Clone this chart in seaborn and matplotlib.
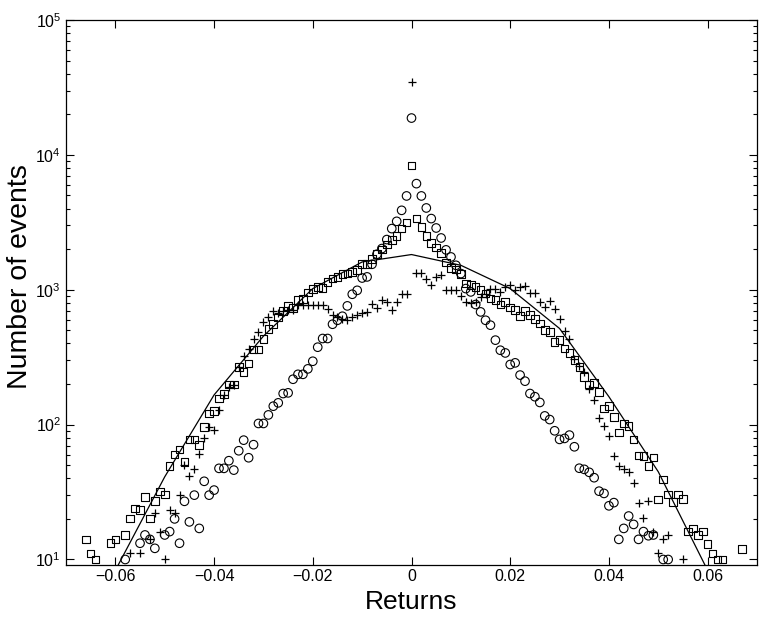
import numpy as np
import pandas as pd
import matplotlib
matplotlib.use("Agg")
import matplotlib.pyplot as plt
import seaborn as sns
from matplotlib.ticker import FixedLocator, FixedFormatter, LogLocator, NullLocator

sq_bin = [-66, -65, -64, -61, -60, -58, -57, -56, -55, -54, -53, -52, -51, -50, -49, -48, -47, -46,
          -45, -44, -43, -42, -41, -40, -39, -38, -37, -36, -35, -34, -33, -32, -31, -30, -29, -28,
          -27, -26, -25, -24, -23, -22, -21, -20, -19, -18, -17, -16, -15, -14, -13, -12, -11, -10,
          -9, -8, -7, -6, -5, -4, -3, -2, -1, 0, 1, 2, 3, 4, 5, 6, 7, 8, 9, 10, 11, 12, 13, 14, 15,
          16, 17, 18, 19, 20, 21, 22, 23, 24, 25, 26, 27, 28, 29, 30, 31, 32, 33, 34, 35, 36, 37, 38,
          39, 40, 41, 42, 43, 44, 45, 46, 47, 48, 49, 50, 51, 52, 53, 54, 55, 56, 57, 58, 59, 60, 61,
          62, 63, 67]
sq_cnt = [14.1, 11.1, 10, 13.2, 14.1, 15.2, 20.2, 23.9, 23.3, 29.2, 20.2, 27.1, 32, 30.4, 49.3, 60,
          65.5, 53, 77.6, 77.6, 70.5, 96, 121, 126, 156, 168, 199, 199, 268, 246, 284, 361, 361, 432,
          509, 555, 622, 697, 755, 733, 836, 851, 953, 1009, 1049, 1031, 1143, 1210, 1245, 1303, 1318,
          1355, 1394, 1545, 1545, 1683, 1833, 1985, 2165, 2330, 2505, 2840, 3145, 8360, 3370, 2930,
          2505, 2223, 2055, 1875, 1590, 1450, 1410, 1310, 1115, 1080, 1049, 991, 937, 861, 836, 777,
          812, 738, 705, 636, 693, 647, 604, 562, 501, 487, 410, 423, 366, 340, 301, 268, 226, 199,
          204, 174, 132, 137, 114, 87.5, 102, 98, 77.6, 59, 58.5, 49.3, 57, 27.9, 39.3, 30.4, 26.8,
          30.4, 28, 16.1, 17, 15.2, 16.1, 13, 11.1, 10, 10, 12]

ci_bin = [-58, -55, -54, -53, -52, -50, -49, -48, -47, -46, -45, -44, -43, -42, -41, -40, -39, -38,
          -37, -36, -35, -34, -33, -32, -31, -30, -29, -28, -27, -26, -25, -24, -23, -22, -21, -20,
          -19, -18, -17, -16, -15, -14, -13, -12, -11, -10, -9, -8, -7, -6, -5, -4, -3, -2, -1, 0,
          1, 2, 3, 4, 5, 6, 7, 8, 9, 10, 11, 12, 13, 14, 15, 16, 17, 18, 19, 20, 21, 22, 23, 24, 25,
          26, 27, 28, 29, 30, 31, 32, 33, 34, 35, 36, 37, 38, 39, 40, 41, 42, 43, 44, 45, 46, 47, 48,
          49, 51, 52]
ci_cnt = [10, 13.2, 15.2, 14.1, 12.1, 15.2, 16.1, 20, 13.2, 27, 19, 30, 17, 38, 30, 32.7, 47.4, 47.4,
          54, 46, 64, 76.7, 56.8, 71, 102, 102, 118, 137, 145, 170, 172, 217, 236, 236, 259, 295, 375,
          435, 435, 555, 594, 636, 759, 926, 990, 1222, 1245, 1545, 1833, 2020, 2355, 2840, 3215,
          3880, 4960, 18750, 6120, 4960, 4040, 3370, 2870, 2420, 1975, 1750, 1518, 1318, 1020, 964,
          777, 685, 594, 546, 423, 356, 340, 279, 287, 233, 210, 170, 161, 146, 116, 109, 90, 77.7,
          79, 83.6, 68.5, 47.5, 46.6, 44.3, 40.4, 32.1, 30.9, 25, 26.4, 14.1, 17, 21, 18.2, 14.1,
          16.1, 15, 15.2, 10, 10]

pl_bin = [-57, -55, -53, -52, -51, -50, -49, -48, -47, -46, -45, -44, -43, -42, -41, -40, -39, -38,
          -37, -36, -35, -34, -33, -32, -31, -30, -29, -28, -27, -26, -25, -24, -23, -22, -21, -20,
          -19, -18, -17, -16, -15, -14, -13, -12, -11, -10, -9, -8, -7, -6, -5, -4, -3, -2, -1, 0,
          1, 2, 3, 4, 5, 6, 7, 8, 9, 10, 11, 12, 13, 14, 15, 16, 17, 18, 19, 20, 21, 22, 23, 24, 25,
          26, 27, 28, 29, 30, 31, 32, 33, 34, 35, 36, 37, 38, 39, 40, 41, 42, 43, 44, 45, 46, 47, 48,
          49, 50, 51, 52, 55]
pl_cnt = [11.1, 11.1, 14.1, 22.2, 16, 10, 23.3, 22.2, 30, 50, 41.6, 46.6, 60.4, 79, 96.3, 91, 128,
          166, 190, 196, 268, 321, 362, 435, 487, 578, 629, 697, 667, 697, 705, 713, 768, 768, 768,
          772, 768, 768, 726, 647, 629, 612, 594, 629, 647, 667, 685, 790, 738, 846, 812, 713, 812,
          937, 937, 34600, 1331, 1331, 1210, 1093, 1245, 1280, 1003, 1003, 1003, 896, 812, 798, 812,
          885, 937, 1020, 1020, 963, 1049, 1079, 990, 1049, 1067, 948, 948, 812, 746, 822, 717, 612,
          495, 430, 309, 271, 246, 185, 152, 112, 98, 82, 58.5, 49.3, 46.6, 44.7, 37, 26.4, 20.2,
          27.1, 16.1, 11.1, 14.1, 15.2, 10]

fit_ret = [-0.06, -0.05, -0.04, -0.03, -0.02, -0.01, 0.0, 0.01, 0.02, 0.03, 0.04, 0.05, 0.06]
fit_cnt = [8.3, 41, 166, 453, 1020, 1607, 1824, 1518, 1020, 516, 161, 44.7, 8.3]

xtick_vals = [-0.06, -0.04, -0.02, 0, 0.02, 0.04, 0.06]
xtick_labels = ["\u22120.06", "\u22120.04", "\u22120.02", "0", "0.02", "0.04", "0.06"]
ytick_vals = [1e1, 1e2, 1e3, 1e4, 1e5]
ytick_labels = ["$10^{1}$", "$10^{2}$", "$10^{3}$", "$10^{4}$", "$10^{5}$"]

sq = pd.DataFrame({"ret": np.array(sq_bin) / 1000, "n": sq_cnt})
ci = pd.DataFrame({"ret": np.array(ci_bin) / 1000, "n": ci_cnt})
pl = pd.DataFrame({"ret": np.array(pl_bin) / 1000, "n": pl_cnt})
fit = pd.DataFrame({"ret": fit_ret, "n": fit_cnt})

sns.set_style("ticks")
plt.rcParams["font.family"] = ["Liberation Sans", "DejaVu Sans"]
plt.rcParams["mathtext.default"] = "regular"
plt.rcParams["text.color"] = "black"
plt.rcParams["axes.labelcolor"] = "black"

fig = plt.figure(figsize=(7.63, 6.18), dpi=100)
ax = fig.add_axes([66 / 763, 1 - 564.5 / 618, (757 - 66) / 763, (564.5 - 20) / 618])

sns.lineplot(data=fit, x="ret", y="n", color="black", linewidth=0.9, ax=ax)
sns.scatterplot(data=sq, x="ret", y="n", marker="s", s=30, facecolor="none",
                edgecolor="black", linewidth=0.8, ax=ax)
sns.scatterplot(data=ci, x="ret", y="n", marker="o", s=38, facecolor="none",
                edgecolor="black", linewidth=0.8, ax=ax)
sns.scatterplot(data=pl, x="ret", y="n", marker="+", s=38, color="black",
                linewidth=0.9, ax=ax)

ax.set_yscale("log")
ax.set_xlim(-0.07, 0.07)
ax.set_ylim(9.18, 1e5)

ax.xaxis.set_major_locator(FixedLocator(xtick_vals))
ax.xaxis.set_major_formatter(FixedFormatter(xtick_labels))
ax.xaxis.set_minor_locator(NullLocator())
ax.yaxis.set_major_locator(FixedLocator(ytick_vals))
ax.yaxis.set_major_formatter(FixedFormatter(ytick_labels))
ax.yaxis.set_minor_locator(LogLocator(base=10, subs=np.arange(2, 10), numticks=20))

ax.tick_params(which="both", direction="in", top=True, right=True, labelsize=11.5,
               width=0.8, color="black", labelcolor="black")
ax.tick_params(which="major", length=6)
ax.tick_params(which="minor", length=3)
for sp in ax.spines.values():
    sp.set_linewidth(0.9)
    sp.set_color("black")

ax.set_xlabel("Returns", fontsize=19)
ax.set_ylabel("Number of events", fontsize=20.5)
ax.yaxis.set_label_coords(-0.048, 0.528)

fig.savefig("out.png", dpi=100)
